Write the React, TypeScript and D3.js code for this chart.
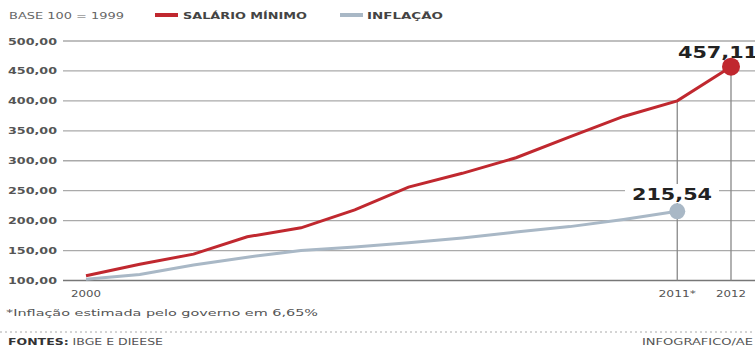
import React from "react";
import * as d3 from "d3";

const years = [2000, 2001, 2002, 2003, 2004, 2005, 2006, 2007, 2008, 2009, 2010, 2011, 2012];
const salario = [108, 127, 144, 173, 188, 218, 256, 279, 305, 340, 374, 400, 457.11];
const inflacao = [102, 110, 126, 139, 150, 156, 163, 171, 181, 190, 202, 215.54];
const yTicks = [100, 150, 200, 250, 300, 350, 400, 450, 500];
const xLabels = [
  { year: 2000, label: "2000" },
  { year: 2011, label: "2011*" },
  { year: 2012, label: "2012" },
];

const RED = "#c0282f";
const GRAY = "#a9b8c6";
const FONT = "'DejaVu Sans', sans-serif";

export default function App() {
  const W = 755, H = 348;
  const x = d3.scaleLinear().domain([2000, 2012]).range([86, 731]);
  const y = d3.scaleLinear().domain([100, 500]).range([280.5, 41]);
  const line = d3.line<[number, number]>().x(d => x(d[0])).y(d => y(d[1]));
  const salPts: [number, number][] = salario.map((v, i) => [years[i], v]);
  const infPts: [number, number][] = inflacao.map((v, i) => [years[i], v]);
  const fmt = (v: number) => v.toFixed(2).replace(".", ",");
  const lastSal = salPts[salPts.length - 1];
  const lastInf = infPts[infPts.length - 1];
  const S = "spacingAndGlyphs";

  return (
    <svg width={W} height={H} style={{ position: "absolute", left: 0, top: 0, background: "#fff" }} fontFamily={FONT}>
      <rect width={W} height={H} fill="#fff" />
      {/* legend */}
      <text x={9} y={19} fontSize={9} fill="#666" textLength={115} lengthAdjust={S}>BASE 100 = 1999</text>
      <rect x={155} y={13} width={23} height={4} fill={RED} />
      <text x={183} y={19} fontSize={9} fontWeight="bold" fill="#444" textLength={124} lengthAdjust={S}>SALÁRIO MÍNIMO</text>
      <rect x={340} y={13} width={23} height={4} fill={GRAY} />
      <text x={367} y={19} fontSize={9} fontWeight="bold" fill="#444" textLength={76} lengthAdjust={S}>INFLAÇÃO</text>

      {/* grid */}
      {yTicks.map(t => (
        <g key={t}>
          <line x1={63} x2={W} y1={y(t)} y2={y(t)} stroke={t === 100 ? "#777" : "#aaa"} strokeWidth={t === 100 ? 1.4 : 1.3} />
          <text x={8} y={y(t) + 3.5} fontSize={9.5} fontWeight="bold" fill="#555" textLength={49} lengthAdjust={S}>{fmt(t)}</text>
        </g>
      ))}

      {/* vertical markers */}
      <line x1={x(lastInf[0])} x2={x(lastInf[0])} y1={y(salario[11])} y2={y(100)} stroke="#888" strokeWidth={1.3} />
      <line x1={x(lastSal[0])} x2={x(lastSal[0])} y1={y(lastSal[1])} y2={y(100)} stroke="#888" strokeWidth={1.3} />

      {/* x labels */}
      {xLabels.map(l => (
        <text key={l.label} x={x(l.year)} y={297} fontSize={9} fill="#555" textAnchor="middle"
          textLength={l.label.length * 7.5} lengthAdjust={S}>{l.label}</text>
      ))}

      {/* lines */}
      <path d={line(infPts) || ""} fill="none" stroke={GRAY} strokeWidth={3} />
      <path d={line(salPts) || ""} fill="none" stroke={RED} strokeWidth={3} />

      {/* end markers */}
      <circle cx={x(lastInf[0])} cy={y(lastInf[1])} r={8} fill={GRAY} />
      <circle cx={x(lastSal[0])} cy={y(lastSal[1])} r={9} fill={RED} />

      {/* value labels */}
      <rect x={625} y={184} width={94} height={19} fill="#fff" />
      <text x={632} y={200} fontSize={15} fontWeight="bold" fill="#222" textLength={80} lengthAdjust={S}>{fmt(lastInf[1])}</text>
      <text x={678} y={58} fontSize={16} fontWeight="bold" fill="#222" textLength={80} lengthAdjust={S}>{fmt(lastSal[1])}</text>

      {/* footnote */}
      <text x={6} y={316} fontSize={9.5} fill="#555" textLength={312} lengthAdjust={S}>*Inflação estimada pelo governo em 6,65%</text>
      <line x1={0} x2={W} y1={332} y2={332} stroke="#aaa" strokeWidth={1} strokeDasharray="2,3" />
      <text x={8} y={345} fontSize={8.5} fill="#555" textLength={155} lengthAdjust={S}><tspan fontWeight="bold" fill="#333">FONTES:</tspan> IBGE E DIEESE</text>
      <text x={642} y={345} fontSize={8.5} fill="#555" textLength={111} lengthAdjust={S}>INFOGRAFICO/AE</text>
    </svg>
  );
}
